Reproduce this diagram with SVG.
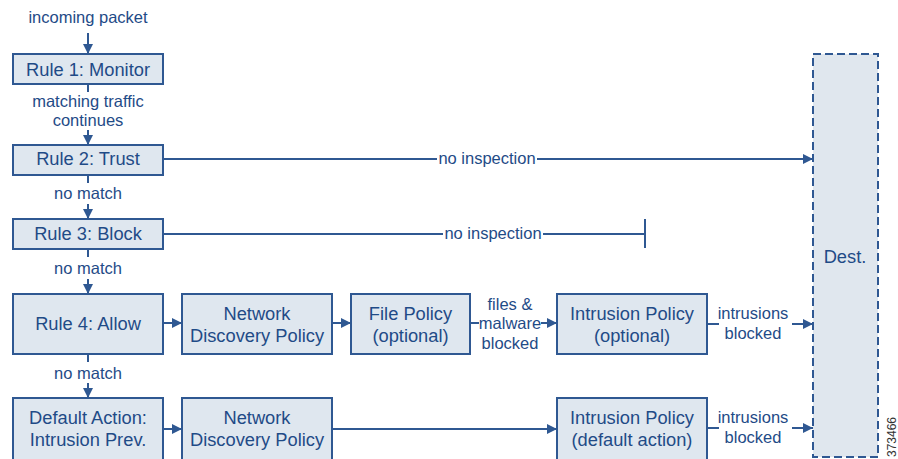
<svg xmlns="http://www.w3.org/2000/svg" width="898" height="459" viewBox="0 0 898 459">
<style>
.box{fill:#dfe7ef;stroke:#2f5892;stroke-width:2}
.dest{fill:#e0e7ee;stroke:#2f5892;stroke-width:2;stroke-dasharray:8 4}
.bt{font-family:"Liberation Sans",Arial,sans-serif;font-size:18.3px;fill:#1f4b87;text-anchor:middle;dominant-baseline:central}
.lt{font-family:"Liberation Sans",Arial,sans-serif;font-size:16.5px;fill:#1f4b87;text-anchor:middle;dominant-baseline:central}
.ln{stroke:#2f5892;stroke-width:2;fill:none}
.id{font-family:"Liberation Sans",Arial,sans-serif;font-size:12px;fill:#333}
</style>
<defs>
<marker id="ah" viewBox="0 0 10 10" refX="10" refY="5" markerWidth="5" markerHeight="5" orient="auto" markerUnits="strokeWidth">
<path d="M0,0 L10,5 L0,10 z" fill="#2f5892"/>
</marker>
</defs>
<rect width="898" height="459" fill="#ffffff"/>

<g id="connectors">
<text class="lt" x="88" y="17">incoming packet</text>
<line class="ln" x1="88" y1="33" x2="88" y2="54" marker-end="url(#ah)"/>
<line class="ln" x1="88" y1="84" x2="88" y2="92"/>
<text class="lt" x="88" y="101">matching traffic</text>
<text class="lt" x="88" y="120">continues</text>
<line class="ln" x1="88" y1="130" x2="88" y2="145" marker-end="url(#ah)"/>
<line class="ln" x1="88" y1="175" x2="88" y2="183"/>
<text class="lt" x="88" y="193">no match</text>
<line class="ln" x1="88" y1="204" x2="88" y2="219" marker-end="url(#ah)"/>
<line class="ln" x1="88" y1="249" x2="88" y2="257"/>
<text class="lt" x="88" y="268">no match</text>
<line class="ln" x1="88" y1="279" x2="88" y2="294" marker-end="url(#ah)"/>
<line class="ln" x1="88" y1="354" x2="88" y2="362"/>
<text class="lt" x="88" y="373">no match</text>
<line class="ln" x1="88" y1="383" x2="88" y2="398" marker-end="url(#ah)"/>

<line class="ln" x1="163" y1="159" x2="437" y2="159"/>
<text class="lt" x="487" y="158">no inspection</text>
<line class="ln" x1="537" y1="159" x2="813" y2="159" marker-end="url(#ah)"/>

<line class="ln" x1="163" y1="234" x2="443" y2="234"/>
<text class="lt" x="493" y="233">no inspection</text>
<line class="ln" x1="543" y1="234" x2="645" y2="234"/>
<line class="ln" x1="645" y1="219" x2="645" y2="248"/>

<line class="ln" x1="163" y1="323" x2="182" y2="323" marker-end="url(#ah)"/>
<line class="ln" x1="332" y1="323" x2="351" y2="323" marker-end="url(#ah)"/>
<line class="ln" x1="470" y1="323" x2="479" y2="323"/>
<text class="lt" x="510" y="304">files &amp;</text>
<text class="lt" x="510" y="323">malware</text>
<text class="lt" x="510" y="343">blocked</text>
<line class="ln" x1="541" y1="323" x2="557" y2="323" marker-end="url(#ah)"/>

<line class="ln" x1="707" y1="324" x2="719" y2="324"/>
<text class="lt" x="753" y="313">intrusions</text>
<text class="lt" x="753" y="333">blocked</text>
<line class="ln" x1="792" y1="324" x2="813" y2="324" marker-end="url(#ah)"/>

<line class="ln" x1="163" y1="429" x2="182" y2="429" marker-end="url(#ah)"/>
<line class="ln" x1="332" y1="429" x2="557" y2="429" marker-end="url(#ah)"/>

<line class="ln" x1="707" y1="428" x2="719" y2="428"/>
<text class="lt" x="753" y="417">intrusions</text>
<text class="lt" x="753" y="437">blocked</text>
<line class="ln" x1="792" y1="428" x2="813" y2="428" marker-end="url(#ah)"/>
</g>

<g id="rule1"><rect class="box" x="13" y="54" width="150" height="30"/><text class="bt" x="88" y="69">Rule 1: Monitor</text></g>
<g id="rule2"><rect class="box" x="13" y="145" width="150" height="30"/><text class="bt" x="88" y="158">Rule 2: Trust</text></g>
<g id="rule3"><rect class="box" x="13" y="219" width="150" height="30"/><text class="bt" x="88" y="233">Rule 3: Block</text></g>
<g id="rule4"><rect class="box" x="13" y="294" width="150" height="60"/><text class="bt" x="88" y="323">Rule 4: Allow</text></g>
<g id="nd1"><rect class="box" x="182" y="294" width="150" height="60"/><text class="bt" x="257" y="313">Network</text><text class="bt" x="257" y="335">Discovery Policy</text></g>
<g id="filepolicy"><rect class="box" x="351" y="294" width="119" height="60"/><text class="bt" x="410.5" y="313">File Policy</text><text class="bt" x="410.5" y="335">(optional)</text></g>
<g id="ips1"><rect class="box" x="557" y="294" width="150" height="60"/><text class="bt" x="632" y="313">Intrusion Policy</text><text class="bt" x="632" y="335">(optional)</text></g>
<g id="default"><rect class="box" x="13" y="398" width="150" height="62"/><text class="bt" x="88" y="417">Default Action:</text><text class="bt" x="88" y="439">Intrusion Prev.</text></g>
<g id="nd2"><rect class="box" x="182" y="398" width="150" height="62"/><text class="bt" x="257" y="417">Network</text><text class="bt" x="257" y="439">Discovery Policy</text></g>
<g id="ips2"><rect class="box" x="557" y="398" width="150" height="62"/><text class="bt" x="632" y="417">Intrusion Policy</text><text class="bt" x="632" y="439">(default action)</text></g>
<g id="dest"><rect class="dest" x="813" y="54" width="65" height="403"/><text class="bt" x="845" y="256">Dest.</text></g>
<text class="id" transform="translate(896,457) rotate(-90)">373466</text>
</svg>
